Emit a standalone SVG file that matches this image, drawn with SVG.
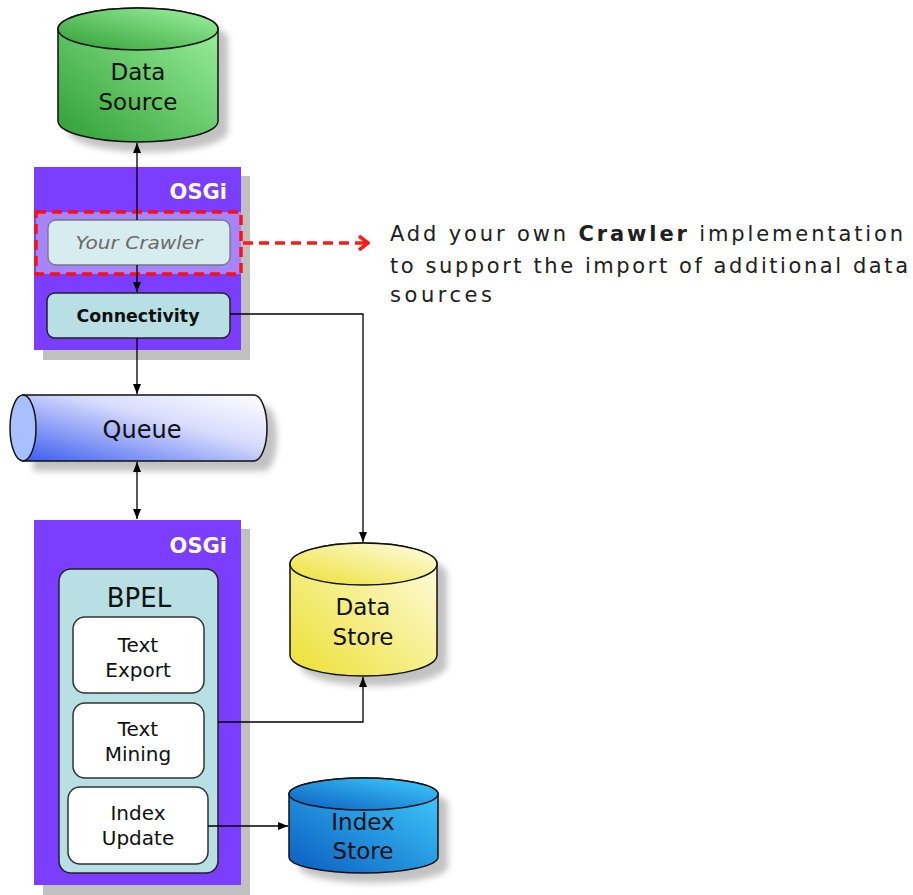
<svg xmlns="http://www.w3.org/2000/svg" width="913" height="895" viewBox="0 0 913 895">
<defs>
<linearGradient id="gGreen" x1="0" y1="1" x2="1" y2="0"><stop offset="0" stop-color="#2f9e35"/><stop offset="1" stop-color="#a0f4a0"/></linearGradient>
<linearGradient id="gYellow" x1="0" y1="1" x2="1" y2="0"><stop offset="0" stop-color="#ece030"/><stop offset="1" stop-color="#fffde8"/></linearGradient>
<linearGradient id="gBlue" x1="0" y1="1" x2="1" y2="0"><stop offset="0" stop-color="#0a5cc0"/><stop offset="1" stop-color="#40d0ff"/></linearGradient>
<linearGradient id="gQueue" x1="0" y1="1" x2="1" y2="0"><stop offset="0" stop-color="#3a5cf0"/><stop offset="0.6" stop-color="#d8dcfc"/><stop offset="1" stop-color="#ffffff"/></linearGradient>
<filter id="blur" x="-20%" y="-20%" width="140%" height="140%"><feGaussianBlur stdDeviation="3"/></filter>
<marker id="ah" viewBox="0 0 10 10" refX="10" refY="5" markerWidth="10" markerHeight="10" markerUnits="userSpaceOnUse" orient="auto-start-reverse"><path d="M0,1 L10,5 L0,9 z" fill="#000"/></marker>
<marker id="redah" viewBox="0 0 12 16" refX="10" refY="8" markerWidth="12" markerHeight="16" markerUnits="userSpaceOnUse" orient="auto"><path d="M1,1 L10,8 L1,15" fill="none" stroke="#ff1a1a" stroke-width="3.5"/></marker>
</defs>
<style>
.t{font-family:"DejaVu Sans","Liberation Sans",sans-serif;fill:#101010;text-anchor:middle}
.osgi{font-family:"DejaVu Sans","Liberation Sans",sans-serif;font-weight:bold;font-size:21px;fill:#ffffff;text-anchor:end}
.edge{fill:none;stroke:#000;stroke-width:1.3}
.shadow{fill:#9a9a9a;opacity:0.6;filter:url(#blur)}
.osgibox{fill:#7b3dff}
.osgishadow{fill:#c0c0c0}
.cyl{stroke:#111;stroke-width:1.5}
.wbox{fill:#ffffff;stroke:#333;stroke-width:1.5}
.note{font-family:"DejaVu Sans","Liberation Sans",sans-serif;font-size:21px;fill:#202020}
</style>

<g id="data-source">
<path class="shadow" d="M68,39 A80,21 0 0 1 228,39 L228,131 A80,21 0 0 1 68,131 Z"/>
<path class="cyl" fill="url(#gGreen)" d="M58,29 A80,21 0 0 1 218,29 L218,121 A80,21 0 0 1 58,121 Z"/>
<ellipse class="cyl" fill="url(#gGreen)" cx="138" cy="29" rx="80" ry="21"/>
<text class="t" font-size="23" x="138" y="80">Data</text>
<text class="t" font-size="23" x="138" y="110">Source</text>
</g>

<g id="osgi-top">
<rect class="osgishadow" x="43" y="176" width="207" height="184"/>
<rect class="osgibox" x="34" y="167" width="207" height="183"/>
<text class="osgi" x="227" y="199">OSGi</text>
</g>

<g id="your-crawler">
<rect x="36" y="212" width="205" height="62" fill="#a684ff" stroke="#ff1010" stroke-width="3.5" stroke-dasharray="10,6"/>
<rect x="48" y="220" width="182" height="45" rx="8" fill="#d6ecef" stroke="#777" stroke-width="1.3"/>
<text class="t" font-size="18" font-style="italic" style="fill:#6a6a6a" x="139" y="249" textLength="127" lengthAdjust="spacingAndGlyphs">Your Crawler</text>
</g>

<g id="connectivity">
<rect x="47" y="293" width="183" height="45" rx="8" fill="#b8e0e4" stroke="#222" stroke-width="1.5"/>
<text class="t" font-size="17" font-weight="bold" x="138" y="322" textLength="123" lengthAdjust="spacingAndGlyphs">Connectivity</text>
</g>

<g id="queue">
<path class="shadow" d="M33,405 L264,405 A13,33 0 0 1 264,471 L33,471 Z"/>
<path class="cyl" fill="url(#gQueue)" d="M23,395 L254,395 A13,33 0 0 1 254,461 L23,461 Z"/>
<ellipse class="cyl" fill="#a8c0ff" cx="23" cy="428" rx="13" ry="33"/>
<text class="t" font-size="24" x="142" y="438">Queue</text>
</g>

<g id="osgi-bottom">
<rect class="osgishadow" x="43" y="529" width="207" height="366"/>
<rect class="osgibox" x="34" y="520" width="207" height="365"/>
<text class="osgi" x="227" y="553">OSGi</text>
</g>

<g id="bpel">
<rect x="59" y="569" width="159" height="304" rx="12" fill="#b8e0e4" stroke="#222" stroke-width="1.5"/>
<text class="t" font-size="26" x="139" y="607">BPEL</text>
</g>

<g id="text-export">
<rect class="wbox" x="73" y="617" width="131" height="76" rx="12"/>
<text class="t" font-size="20" x="138" y="652">Text</text>
<text class="t" font-size="20" x="138" y="677">Export</text>
</g>

<g id="text-mining">
<rect class="wbox" x="73" y="703" width="131" height="75" rx="12"/>
<text class="t" font-size="20" x="138" y="736">Text</text>
<text class="t" font-size="20" x="138" y="761">Mining</text>
</g>

<g id="index-update">
<rect class="wbox" x="68" y="787" width="140" height="77" rx="12"/>
<text class="t" font-size="20" x="138" y="820">Index</text>
<text class="t" font-size="20" x="138" y="845">Update</text>
</g>

<g id="data-store">
<path class="shadow" d="M300,574 A73.5,21 0 0 1 447,574 L447,665 A73.5,21 0 0 1 300,665 Z"/>
<path class="cyl" fill="url(#gYellow)" d="M290,564 A73.5,21 0 0 1 437,564 L437,655 A73.5,21 0 0 1 290,655 Z"/>
<ellipse class="cyl" fill="url(#gYellow)" cx="363.5" cy="564" rx="73.5" ry="21"/>
<text class="t" font-size="23" x="363" y="615">Data</text>
<text class="t" font-size="23" x="363" y="645">Store</text>
</g>

<g id="index-store">
<path class="shadow" d="M299,804 A74.5,16 0 0 1 448,804 L448,867 A74.5,16 0 0 1 299,867 Z"/>
<path class="cyl" fill="url(#gBlue)" d="M289,794 A74.5,16 0 0 1 438,794 L438,857 A74.5,16 0 0 1 289,857 Z"/>
<ellipse class="cyl" fill="url(#gBlue)" cx="363.5" cy="794" rx="74.5" ry="16"/>
<text class="t" font-size="23" x="363" y="830">Index</text>
<text class="t" font-size="23" x="363" y="859">Store</text>
</g>

<g id="annotation">
<text class="note" x="390" y="241" textLength="513" lengthAdjust="spacing">Add your own <tspan font-weight="bold">Crawler</tspan> implementation</text>
<text class="note" x="390" y="273" textLength="518" lengthAdjust="spacing">to support the import of additional data</text>
<text class="note" x="390" y="302" textLength="102" lengthAdjust="spacing">sources</text>
</g>

<g id="connectors">
<line class="edge" x1="137" y1="220" x2="137" y2="143" marker-end="url(#ah)"/>
<line class="edge" x1="137" y1="265" x2="137" y2="292" marker-end="url(#ah)"/>
<line class="edge" x1="137" y1="338" x2="137" y2="394" marker-end="url(#ah)"/>
<line class="edge" x1="137" y1="462" x2="137" y2="519" marker-start="url(#ah)" marker-end="url(#ah)"/>
<polyline class="edge" points="230,314 363,314 363,542" marker-end="url(#ah)"/>
<polyline class="edge" points="218,722 363,722 363,677" marker-end="url(#ah)"/>
<line class="edge" x1="208" y1="826" x2="288" y2="826" marker-end="url(#ah)"/>
<line x1="243" y1="243" x2="368" y2="243" stroke="#ff1a1a" stroke-width="3.5" stroke-dasharray="10,6" marker-end="url(#redah)"/>
</g>
</svg>
